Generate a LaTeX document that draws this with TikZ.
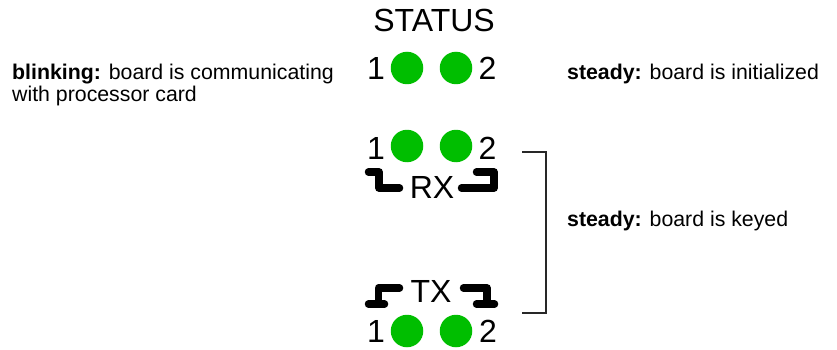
\documentclass[tikz,border=0pt]{standalone}
\usepackage{fontspec}
\setmainfont{Liberation Sans}
\definecolor{ledgreen}{RGB}{0,190,0}
\definecolor{brk}{RGB}{40,40,40}
\tikzset{
  led/.style={circle, fill=ledgreen, draw=none, minimum size=32.5pt, inner sep=0pt},
  big/.style={inner sep=0pt, anchor=base, font=\fontsize{32}{34}\selectfont},
  desc/.style={inner sep=0pt, anchor=base west, align=left, font=\fontsize{21.3}{21.5}\selectfont},
  thick key/.style={line width=7.5pt, line cap=round, line join=round, black},
  brace line/.style={line width=1.4pt, brk}
}
\begin{document}
\begin{tikzpicture}[x=1pt, y=-1pt]
\useasboundingbox (0,0) rectangle (837,350);
% STATUS
\node[big] (status) at (434,32) {STATUS};
\node[led] (s1) at (407,68) {};
\node[led] (s2) at (456,68) {};
\node[big] (s1n) at (376,80) {1};
\node[big] (s2n) at (487.5,80) {2};
% RX
\node[led] (r1) at (407,146) {};
\node[led] (r2) at (456,146) {};
\node[big] (r1n) at (376,159) {1};
\node[big] (r2n) at (487.5,159) {2};
\node[big] (rx) at (432,198) {RX};
\draw[thick key] (368.5,172) -- (379,172) -- (379,188) -- (399.5,188);
\draw[thick key] (476.5,172) -- (494,172) -- (494,188) -- (461.5,188);
% TX
\node[big] (tx) at (431,302) {TX};
\draw[thick key] (399.5,288) -- (378.5,288) -- (378.5,304);
\draw[thick key] (368.5,304) -- (384.5,304);
\draw[thick key] (463.5,288) -- (487,288) -- (487,304);
\draw[thick key] (476.5,304) -- (494.5,304);
\node[led] (t1) at (407,331) {};
\node[led] (t2) at (456,331) {};
\node[big] (t1n) at (376,342) {1};
\node[big] (t2n) at (488,342) {2};
% bracket
\coordinate (b1) at (522,152);
\coordinate (b2) at (546,152);
\coordinate (b3) at (546,313);
\coordinate (b4) at (522,313);
\draw[brace line] (b1) -- (b2) -- (b3) -- (b4);
% descriptions
\node[desc] (blink) at (12,101.5) {\textbf{blinking:} board is communicating\\with processor card};
\node[desc] (init) at (567,80) {\textbf{steady:} board is initialized};
\node[desc] (keyed) at (567,226) {\textbf{steady:} board is keyed};
\end{tikzpicture}
\end{document}
